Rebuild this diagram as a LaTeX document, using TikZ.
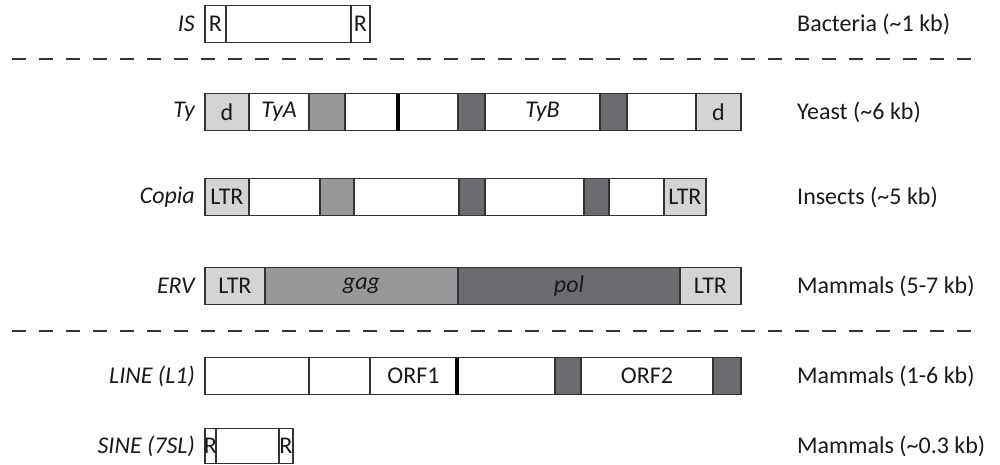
\documentclass[tikz,border=0pt]{standalone}
\usepackage{fontspec}
\setmainfont{Carlito}
\definecolor{lgray}{HTML}{D4D4D4}
\definecolor{mgray}{HTML}{98989B}
\definecolor{dgray}{HTML}{6C6C70}
\definecolor{edge}{HTML}{333333}
\definecolor{ink}{HTML}{1A1A1A}
\tikzset{
  seg/.style={draw=edge, line width=1.1pt, inner sep=0pt, outer sep=0pt,
    minimum height=37pt, anchor=west, text=ink, font=\fontsize{24}{28}\selectfont},
  segL/.style={seg, fill=lgray},
  segM/.style={seg, fill=mgray},
  segD/.style={seg, fill=dgray},
  segW/.style={seg, fill=white},
  namelbl/.style={anchor=east, inner sep=0pt, text=ink, font=\fontsize{24}{28}\selectfont\itshape},
  hostlbl/.style={anchor=west, inner sep=0pt, text=ink, font=\fontsize{24}{28}\selectfont},
  sepline/.style={draw=edge, line width=1.8pt, dash pattern=on 14pt off 13pt},
  thickbar/.style={draw=black, line width=4pt}
}
\begin{document}
\begin{tikzpicture}[x=1pt, y=-1pt]
\useasboundingbox (0,0) rectangle (1000,464);

% IS
\node[namelbl] (lis) at (195,24) {IS};
\node[segW, minimum width=21pt] (is1) at (205,24) {R};
\node[segW, minimum width=125pt] (is2) at (is1.east) {};
\node[segW, minimum width=19pt] (is3) at (is2.east) {R};
\node[hostlbl] (ris) at (797,24) {Bacteria (\textasciitilde1 kb)};

% separator 1
\coordinate (d1a) at (12,59);
\coordinate (d1b) at (971,59);
\draw[sepline] (d1a) -- (d1b);

% Ty
\node[namelbl] (lty) at (195,112) {Ty};
\node[segL, minimum width=44pt] (ty1) at (205,112) {d};
\node[segW, minimum width=60pt] (ty2) at (ty1.east) {\itshape TyA};
\node[segM, minimum width=36pt] (ty3) at (ty2.east) {};
\node[segW, minimum width=53pt] (ty4) at (ty3.east) {};
\node[segW, minimum width=60pt] (ty5) at (ty4.east) {};
\node[segD, minimum width=27pt] (ty6) at (ty5.east) {};
\node[segW, minimum width=115pt] (ty7) at (ty6.east) {\itshape TyB};
\node[segD, minimum width=27pt] (ty8) at (ty7.east) {};
\node[segW, minimum width=69pt] (ty9) at (ty8.east) {};
\node[segL, minimum width=45pt] (ty10) at (ty9.east) {d};
\draw[thickbar] (ty4.north east) -- (ty4.south east);
\node[hostlbl] (rty) at (797,112) {Yeast (\textasciitilde6 kb)};

% Copia
\node[namelbl] (lco) at (195,197) {Copia};
\node[segL, minimum width=44pt] (co1) at (205,197) {LTR};
\node[segW, minimum width=71pt] (co2) at (co1.east) {};
\node[segM, minimum width=34pt] (co3) at (co2.east) {};
\node[segW, minimum width=105pt] (co4) at (co3.east) {};
\node[segD, minimum width=26pt] (co5) at (co4.east) {};
\node[segW, minimum width=99pt] (co6) at (co5.east) {};
\node[segD, minimum width=25pt] (co7) at (co6.east) {};
\node[segW, minimum width=55pt] (co8) at (co7.east) {};
\node[segL, minimum width=42pt] (co9) at (co8.east) {LTR};
\node[hostlbl] (rco) at (797,197) {Insects (\textasciitilde5 kb)};

% ERV
\node[namelbl] (ler) at (195,286) {ERV};
\node[segL, minimum width=60pt] (er1) at (205,286) {LTR};
\node[segM, minimum width=193pt] (er2) at (er1.east) {\itshape gag};
\node[segD, minimum width=222pt] (er3) at (er2.east) {\itshape pol};
\node[segL, minimum width=61pt] (er4) at (er3.east) {LTR};
\node[hostlbl] (rer) at (797,286) {Mammals (5-7 kb)};

% separator 2
\coordinate (d2a) at (12,331);
\coordinate (d2b) at (971,331);
\draw[sepline] (d2a) -- (d2b);

% LINE
\node[namelbl] (lli) at (195,376) {LINE (L1)};
\node[segW, minimum width=104pt] (li1) at (205,376) {};
\node[segW, minimum width=61pt] (li2) at (li1.east) {};
\node[segW, minimum width=87pt] (li3) at (li2.east) {ORF1};
\node[segW, minimum width=98pt] (li4) at (li3.east) {};
\node[segD, minimum width=26pt] (li5) at (li4.east) {};
\node[segW, minimum width=132pt] (li6) at (li5.east) {ORF2};
\node[segD, minimum width=28pt] (li7) at (li6.east) {};
\draw[thickbar] (li3.north east) -- (li3.south east);
\node[hostlbl] (rli) at (797,376) {Mammals (1-6 kb)};

% SINE
\node[namelbl] (lsi) at (195,446) {SINE (7SL)};
\node[segW, minimum width=11pt, minimum height=35pt] (si1) at (205,446) {\makebox[0pt]{R}};
\node[segW, minimum width=63pt, minimum height=35pt] (si2) at (si1.east) {};
\node[segW, minimum width=14pt, minimum height=35pt] (si3) at (si2.east) {\makebox[0pt]{R}};
\node[hostlbl] (rsi) at (797,446) {Mammals (\textasciitilde0.3 kb)};
\end{tikzpicture}
\end{document}
